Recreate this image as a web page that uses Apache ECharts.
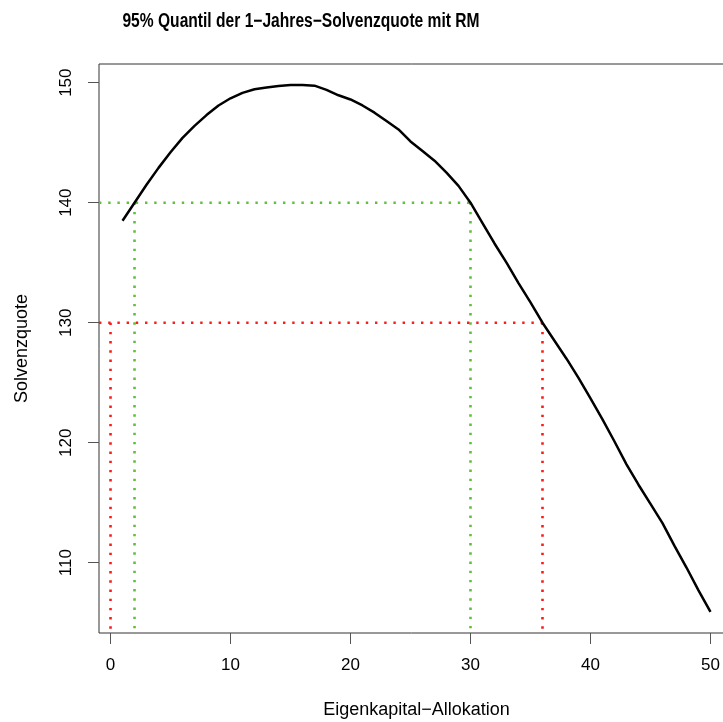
<!DOCTYPE html>
<html>
<head>
<meta charset="utf-8">
<script src="https://cdn.jsdelivr.net/npm/echarts@6/dist/echarts.min.js"></script>
<style>html,body{margin:0;padding:0;background:#fff}#c{width:723px;height:722px}</style>
</head>
<body>
<div id="c"></div>
<script>
// ---- data ----
var allocation = [1,2,3,4,5,6,7,8,9,10,11,12,13,14,15,16,17,18,19,20,21,22,23,24,25,26,27,28,29,30,31,32,33,34,35,36,37,38,39,40,41,42,43,44,45,46,47,48,49,50];
var solvency = [138.5,140.0,141.5,142.9,144.2,145.4,146.4,147.3,148.1,148.7,149.15,149.45,149.6,149.72,149.8,149.8,149.75,149.4,148.95,148.6,148.1,147.5,146.8,146.1,145.1,144.3,143.5,142.5,141.4,140.0,138.3,136.6,135.0,133.3,131.7,130.0,128.5,127.0,125.4,123.7,121.95,120.1,118.2,116.5,114.9,113.3,111.4,109.6,107.7,105.9];
var greenLevel = 140, greenCrossX = [2, 30];
var redLevel = 130, redCrossX = [0, 36];
var xTicks = [0,10,20,30,40,50];
var yTicks = [110,120,130,140,150];
var titleText = '95% Quantil der 1\u2212Jahres\u2212Solvenzquote mit RM';
var xName = 'Eigenkapital\u2212Allokation';
var yName = 'Solvenzquote';

// R-style 4% axis extension
var xr = allocation[allocation.length-1] - allocation[0];
var xMin = allocation[0] - 0.04*xr, xMax = allocation[allocation.length-1] + 0.04*xr;
var yLo = Math.min.apply(null, solvency), yHi = Math.max.apply(null, solvency);
var yr = yHi - yLo;
var yMin = yLo - 0.04*yr, yMax = yHi + 0.04*yr;

var FONT = '"Liberation Sans", Arial, sans-serif';
var chart = echarts.init(document.getElementById('c'), null, {renderer:'canvas'});

function seg(pts, color){
  return {type:'line', data:pts, symbol:'none', silent:true, z:3,
    lineStyle:{color:color, width:2.6, type:[2.4,6.8], cap:'butt'}};
}
var series = [
  {type:'line', data: allocation.map(function(x,i){return [x, solvency[i]];}),
   symbol:'none', z:4, lineStyle:{color:'#000', width:2.5}},
  seg([[xMin, greenLevel],[greenCrossX[1], greenLevel]], '#5fc03a'),
  seg([[greenCrossX[0], greenLevel],[greenCrossX[0], yMin]], '#5fc03a'),
  seg([[greenCrossX[1], greenLevel],[greenCrossX[1], yMin]], '#5fc03a'),
  seg([[xMin, redLevel],[redCrossX[1], redLevel]], '#ff1a1a'),
  seg([[redCrossX[0], redLevel],[redCrossX[0], yMin]], '#ff1a1a'),
  seg([[redCrossX[1], redLevel],[redCrossX[1], yMin]], '#ff1a1a')
];

chart.setOption({
  animation:false,
  backgroundColor:'#fff',
  grid:{left:99, top:64, width:635, height:569, show:true, borderColor:'#333', borderWidth:1,
        backgroundColor:'transparent', containLabel:false, outerBoundsMode:'none'},
  graphic:[{type:'text', x:301, y:22, scaleX:0.8, z:10,
    style:{text:titleText, font:'bold 19.5px '+FONT, fill:'#000', textAlign:'center', textVerticalAlign:'middle'}}],
  xAxis:{type:'value', min:xMin, max:xMax,
    name:xName, nameLocation:'middle', nameGap:68,
    nameTextStyle:{fontFamily:FONT, fontSize:18, color:'#000', verticalAlign:'top'},
    splitLine:{show:false}, axisLine:{show:false, onZero:false},
    axisTick:{show:true, inside:false, length:11, customValues:xTicks, lineStyle:{color:'#555', width:1}},
    axisLabel:{customValues:xTicks, fontFamily:FONT, fontSize:17, color:'#000', margin:24}},
  yAxis:{type:'value', min:yMin, max:yMax,
    name:yName, nameLocation:'middle', nameGap:68, nameRotate:90,
    nameTextStyle:{fontFamily:FONT, fontSize:18, color:'#000'},
    splitLine:{show:false}, axisLine:{show:false, onZero:false},
    axisTick:{show:true, inside:false, length:11, customValues:yTicks, lineStyle:{color:'#555', width:1}},
    axisLabel:{customValues:yTicks, rotate:90, fontFamily:FONT, fontSize:17, color:'#000', margin:24}},
  series:series
});
</script>
</body>
</html>
